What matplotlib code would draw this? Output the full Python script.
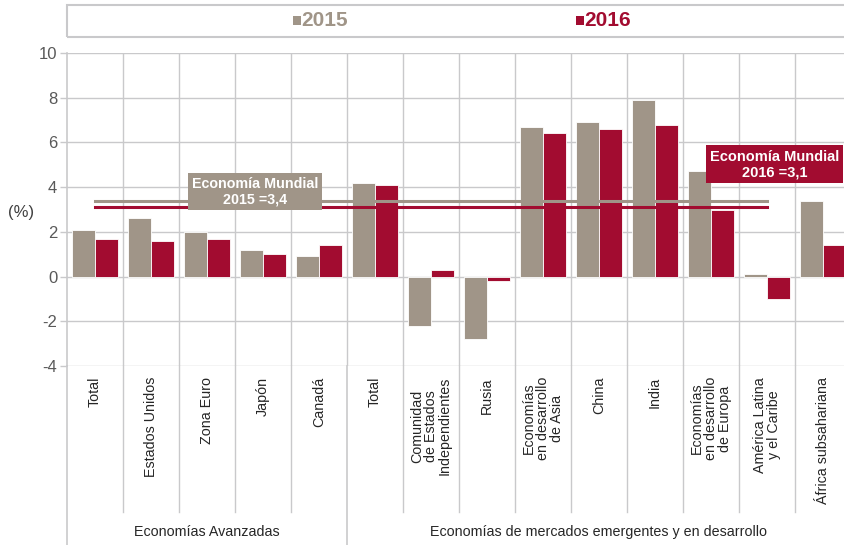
import numpy as np
import matplotlib
matplotlib.use("Agg")
import matplotlib.pyplot as plt
from matplotlib.patches import Rectangle

plt.rcParams['font.family'] = ['Liberation Sans', 'DejaVu Sans']
plt.rcParams['axes.unicode_minus'] = False

# data
categorias = ["Total", "Estados Unidos", "Zona Euro", "Japón", "Canadá",
              "Total", "Comunidad\nde Estados\nIndependientes", "Rusia",
              "Economías\nen desarrollo\nde Asia", "China", "India",
              "Economías\nen desarrollo\nde Europa", "América Latina\ny el Caribe",
              "África subsahariana"]
valores_2015 = [2.1, 2.6, 2.0, 1.2, 0.9, 4.2, -2.2, -2.8, 6.7, 6.9, 7.9, 4.7, 0.1, 3.4]
valores_2016 = [1.7, 1.6, 1.7, 1.0, 1.4, 4.1, 0.3, -0.2, 6.4, 6.6, 6.8, 3.0, -1.0, 1.4]
grupos = ["Economías Avanzadas", "Economías de mercados emergentes y en desarrollo"]
grupo_tamanos = [5, 9]
mundial_2015 = 3.4
mundial_2016 = 3.1
anios = ["2015", "2016"]

GRIS = "#A09588"
ROJO = "#A20C30"
REJILLA = "#C9C9CB"
TEXTO = "#404040"

fig = plt.figure(figsize=(8.45, 5.45), dpi=100)
ax = fig.add_axes([67 / 845, 1 - 366 / 545, 784 / 845, 313 / 545])

x = np.arange(len(categorias))
w = 0.41
ax.bar(x - w / 2, valores_2015, w, color=GRIS, edgecolor="white", linewidth=0.6, zorder=3)
ax.bar(x + w / 2, valores_2016, w, color=ROJO, edgecolor="white", linewidth=0.6, zorder=3)

ax.set_xlim(-0.5, len(categorias) - 0.5)
ax.set_ylim(-4, 10)
ax.set_yticks(np.arange(-4, 11, 2))
ax.set_xticks([])

# grid
for yv in np.arange(-4, 11, 2):
    ax.axhline(yv, color=REJILLA, lw=1, zorder=1)
for xv in np.arange(0.5, len(categorias) - 0.5, 1):
    ax.axvline(xv, color=REJILLA, lw=1, zorder=1)

for s in ["top", "right", "bottom"]:
    ax.spines[s].set_visible(False)
ax.spines["left"].set_color(REJILLA)
ax.spines["left"].set_linewidth(1.2)
ax.tick_params(axis="y", colors=REJILLA, labelcolor="#595959", labelsize=12,
               length=5, width=1, pad=2)

# world lines
ax.plot([0, 12], [mundial_2015, mundial_2015], color=GRIS, lw=2.2, zorder=4)
ax.plot([0, 12], [mundial_2016, mundial_2016], color=ROJO, lw=2.2, zorder=4)
ax.text(2.86, 3.81, "Economía Mundial\n2015 =3,4", color="white", fontsize=10.3,
        fontweight="bold", ha="center", va="center", linespacing=1.15, zorder=5,
        bbox=dict(boxstyle="square,pad=0.25", fc=GRIS, ec="none"))
ax.text(12.13, 5.02, "Economía Mundial\n2016 =3,1", color="white", fontsize=10.5,
        fontweight="bold", ha="center", va="center", linespacing=1.15, zorder=5,
        bbox=dict(boxstyle="square,pad=0.28", fc=ROJO, ec="none"))

fig.text(8 / 845, 1 - 212 / 545, "(%)", fontsize=12, color=TEXTO, va="center", ha="left")

# category table below the axis
tr = ax.get_xaxis_transform()
y_minor = -(512 - 366) / 313
y_bottom = -(545 - 366) / 313
y_label_top = -(377 - 366) / 313
y_group = -(532 - 366) / 313

for i, c in enumerate(categorias):
    ax.text(i, y_label_top, c, transform=tr, rotation=90, ha="center", va="top",
            multialignment="center", fontsize=10.3, color="#262626", linespacing=1.0)

bordes = np.cumsum([0] + grupo_tamanos) - 0.5
inicio = 0
for g, n in zip(grupos, grupo_tamanos):
    for xv in np.arange(inicio + 0.5, inicio + n - 0.5, 1):
        ax.plot([xv, xv], [0, y_minor], transform=tr, color=REJILLA, lw=1, clip_on=False)
    ax.text(inicio + (n - 1) / 2, y_group, g, transform=tr, ha="center", va="center",
            fontsize=10.3, color="#262626")
    inicio += n
for xv in bordes:
    ax.plot([xv, xv], [0, y_bottom], transform=tr, color=REJILLA, lw=1.2, clip_on=False)

# legend box on top
fig.patches.append(Rectangle((67 / 845, 1 - 37 / 545), 0.94, 32 / 545, transform=fig.transFigure,
                             fill=False, ec=REJILLA, lw=1.5))
for px, lab, col in [(293, anios[0], GRIS), (576, anios[1], ROJO)]:
    fig.patches.append(Rectangle((px / 845, 1 - 25 / 545), 8 / 845, 9 / 545,
                                 transform=fig.transFigure, fc=col, ec="none"))
    fig.text((px + 8) / 845, 1 - 21 / 545, lab, fontsize=15, fontweight="bold",
             color=col, va="center", ha="left")

fig.savefig("out.png", dpi=100)
